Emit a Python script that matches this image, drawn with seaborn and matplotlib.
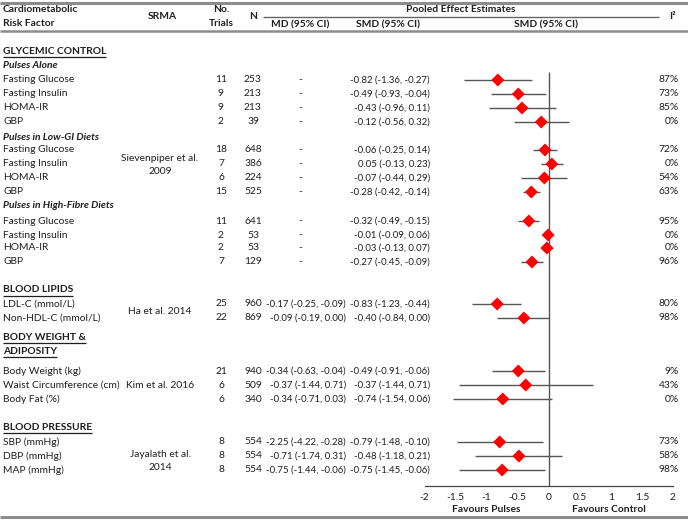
import matplotlib
matplotlib.use("Agg")
import matplotlib.pyplot as plt
import seaborn as sns
import pandas as pd

# ---------------- data ----------------
labels = ["Fasting Glucose", "Fasting Insulin", "HOMA-IR", "GBP",
          "Fasting Glucose", "Fasting Insulin", "HOMA-IR", "GBP",
          "Fasting Glucose", "Fasting Insulin", "HOMA-IR", "GBP",
          "LDL-C (mmol/L)", "Non-HDL-C (mmol/L)",
          "Body Weight (kg)", "Waist Circumference (cm)", "Body Fat (%)",
          "SBP (mmHg)", "DBP (mmHg)", "MAP (mmHg)"]
trials = [11, 9, 9, 2, 18, 7, 6, 15, 11, 2, 2, 7, 25, 22, 21, 6, 6, 8, 8, 8]
n_part = [253, 213, 213, 39, 648, 386, 224, 525, 641, 53, 53, 129,
          960, 869, 940, 509, 340, 554, 554, 554]
md_text = ["-"] * 12 + ["-0.17 (-0.25, -0.09)", "-0.09 (-0.19, 0.00)",
                        "-0.34 (-0.63, -0.04)", "-0.37 (-1.44, 0.71)", "-0.34 (-0.71, 0.03)",
                        "-2.25 (-4.22, -0.28)", "-0.71 (-1.74, 0.31)", "-0.75 (-1.44, -0.06)"]
smd = [-0.82, -0.49, -0.43, -0.12, -0.06, 0.05, -0.07, -0.28, -0.32, -0.01, -0.03, -0.27,
       -0.83, -0.40, -0.49, -0.37, -0.74, -0.79, -0.48, -0.75]
smd_lo = [-1.36, -0.93, -0.96, -0.56, -0.25, -0.13, -0.44, -0.42, -0.49, -0.09, -0.13, -0.45,
          -1.23, -0.84, -0.91, -1.44, -1.54, -1.48, -1.18, -1.45]
smd_hi = [-0.27, -0.04, 0.11, 0.32, 0.14, 0.23, 0.29, -0.14, -0.15, 0.06, 0.07, -0.09,
          -0.44, 0.00, -0.06, 0.71, 0.06, -0.10, 0.21, -0.06]
i2 = [87, 73, 85, 0, 72, 0, 54, 63, 95, 0, 0, 96, 80, 98, 9, 43, 0, 73, 58, 98]
ticks = [-2, -1.5, -1, -0.5, 0, 0.5, 1, 1.5, 2]
tick_labels = ["-2", "-1.5", "-1", "-0.5", "0", "0.5", "1", "1.5", "2"]

section_titles = ["GLYCEMIC CONTROL", "BLOOD LIPIDS", "BODY WEIGHT &\nADIPOSITY", "BLOOD PRESSURE"]
subgroup_titles = ["Pulses Alone", "Pulses in Low-GI Diets", "Pulses in High-Fibre Diets"]
srma_names = ["Sievenpiper et al.\n2009", "Ha et al. 2014", "Kim et al. 2016", "Jayalath et al.\n2014"]

# ---------------- layout (pixel rows) ----------------
W, H = 688, 523
row_y = [80, 94, 108, 122, 150, 164, 178, 192, 221, 235, 248, 262,
         304, 318, 371, 385, 399, 442, 456, 470]
section_y = [51, 290, 337, 427]
subgroup_y = [65, 137, 206]
srma_y = [165, 311, 385, 461]

df = pd.DataFrame({"y": row_y, "smd": smd, "lo": smd_lo, "hi": smd_hi})

sns.set_theme(style="white")
FONT = ["Lato", "DejaVu Sans"]
plt.rcParams["font.family"] = FONT
FS = 7.4      # labels / headers
NFS = 6.9     # numeric CI columns
TXT = "#1e1e1e"

fig = plt.figure(figsize=(W / 100, H / 100), dpi=100)
fig.patch.set_facecolor("white")

# table overlay (pixel coordinates)
tab = fig.add_axes([0, 0, 1, 1])
tab.set_xlim(0, W)
tab.set_ylim(H, 0)
tab.axis("off")

# forest axes: x from -2 to 2 between px 424 and 673, bottom spine at px 486
ax_l, ax_r, ax_b = 424.5, 673, 486
ax = fig.add_axes([ax_l / W, (H - ax_b) / H, (ax_r - ax_l) / W, ax_b / H])
ax.set_facecolor("none")
ax.set_xlim(-2, 2)
ax.set_ylim(ax_b, 0)

ax.vlines(0, 72, ax_b, color="#555555", lw=1.0, zorder=1)
ax.hlines(df["y"], df["lo"], df["hi"], color="#555555", lw=1.0, zorder=2)
sns.scatterplot(data=df, x="smd", y="y", marker="D", color="#ff0000",
                s=44, edgecolor="none", ax=ax, zorder=3, legend=False)
ax.set_xlabel("")
ax.set_ylabel("")
ax.set_yticks([])
ax.set_xticks(ticks)
ax.set_xticklabels(tick_labels, fontsize=FS, color=TXT)
ax.tick_params(axis="x", direction="out", length=3, width=0.8, color="#444444", pad=2)
for s in ["top", "left", "right"]:
    ax.spines[s].set_visible(False)
ax.spines["bottom"].set_color("#444444")
ax.spines["bottom"].set_linewidth(0.9)

# ---------------- header ----------------
LINE = "#8c8c8c"
tab.hlines(3, 0, W, color=LINE, lw=2.2)
tab.hlines(31, 0, W, color=LINE, lw=1.8)
tab.hlines(517, 0, W, color=LINE, lw=2.2)
tab.hlines(16.5, 263, 659, color="#666666", lw=1.0)

hb = dict(fontsize=FS, fontweight="bold", color=TXT, va="center")
tab.text(3, 10, "Cardiometabolic", ha="left", **hb)
tab.text(3, 23, "Risk Factor", ha="left", **hb)
tab.text(162, 16.5, "SRMA", ha="center", **hb)
tab.text(221, 10, "No.", ha="center", **hb)
tab.text(221, 23, "Trials", ha="center", **hb)
tab.text(253, 16.5, "N", ha="center", **hb)
tab.text(461, 10, "Pooled Effect Estimates", ha="center", **hb)
tab.text(300, 25, "MD (95% CI)", ha="center", **hb)
tab.text(388, 25, "SMD (95% CI)", ha="center", **hb)
tab.text(546, 25, "SMD (95% CI)", ha="center", **hb)
tab.text(672, 16.5, "I²", ha="center", **hb)

# ---------------- sections ----------------
fig.canvas.draw()
renderer = fig.canvas.get_renderer()
inv = tab.transData.inverted()
for title, y in zip(section_titles, section_y):
    for k, part in enumerate(title.split("\n")):
        yy = y + 14 * k
        t = tab.text(3, yy, part, ha="left", **hb)
        bb = t.get_window_extent(renderer=renderer)
        (x0, _), (x1, _) = inv.transform([(bb.x0, bb.y0), (bb.x1, bb.y1)])
        tab.hlines(yy + 5.5, x0, x1, color=TXT, lw=0.9)

for title, y in zip(subgroup_titles, subgroup_y):
    tab.text(3, y, title, ha="left", fontsize=FS, fontweight="bold",
             fontstyle="italic", color=TXT, va="center")

for name, y in zip(srma_names, srma_y):
    tab.text(160, y, name, ha="center", va="center", fontsize=FS, color=TXT,
             linespacing=1.5, multialignment="center")

# ---------------- rows ----------------
rt = dict(color=TXT, va="center")
for i, y in enumerate(row_y):
    tab.text(3, y, labels[i], ha="left", fontsize=FS, **rt)
    tab.text(221, y, str(trials[i]), ha="center", fontsize=FS, **rt)
    tab.text(253, y, str(n_part[i]), ha="center", fontsize=FS, **rt)
    if md_text[i] == "-":
        tab.text(300, y, "-", ha="center", fontsize=FS, **rt)
    else:
        tab.text(346, y, md_text[i], ha="right", fontsize=NFS, **rt)
    txt = f"{smd[i]:.2f} ({smd_lo[i]:.2f}, {smd_hi[i]:.2f})"
    tab.text(430, y, txt, ha="right", fontsize=NFS, **rt)
    tab.text(679, y, f"{i2[i]}%", ha="right", fontsize=FS, **rt)

tab.text(486, 510, "Favours Pulses", ha="center", **hb)
tab.text(609, 510, "Favours Control", ha="center", **hb)

fig.savefig("out.png", dpi=100)
